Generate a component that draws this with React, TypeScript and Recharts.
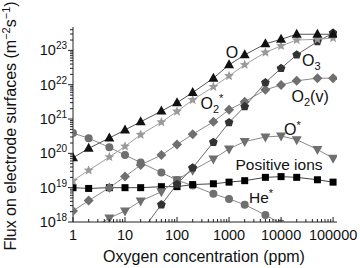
import React from "react"
import { LineChart, Line, XAxis, YAxis } from "recharts"

// oxygen concentration (ppm)
const conc = [1, 2, 5, 10, 20, 50, 100, 200, 500, 1000, 2000, 5000, 10000, 20000, 50000, 100000]

// fluxes (m^-2 s^-1), null = no point
const fluxO = [7.4e19, 1.4e20, 2.8e20, 4.8e20, 8.3e20, 1.7e21, 3.0e21, 5.9e21, 1.55e22, 3.8e22, 7.4e22, 1.55e23, 2.1e23, 2.95e23, 2.95e23, 2.95e23]
const fluxO2s = [1.6e19, 3.2e19, 7.8e19, 1.6e20, 3.5e20, 8.1e20, 1.66e21, 3.6e21, 8.7e21, 1.8e22, 3.8e22, 8.7e22, 1.35e23, 2.0e23, 2.1e23, 2.3e23]
const fluxO3 = [null, null, null, null, 5e17, 3.2e18, 1.26e19, 3.8e19, 2.1e20, 7.9e20, 2.3e21, 1.15e22, 3.0e22, 7.4e22, 1.8e23, 3.2e23]
const fluxO2v = [2.1e18, 4.2e18, 1.0e19, 2.1e19, 4.6e19, 8.9e19, 1.8e20, 3.6e20, 8.3e20, 1.86e21, 3.2e21, 7.1e21, 9.8e21, 1.3e22, 1.55e22, 1.55e22]
const fluxOs = [null, 5.6e17, 1.3e18, 2.1e18, 4.1e18, 7.6e18, 1.7e19, 3.2e19, 6.9e19, 1.35e20, 2.2e20, 3.0e20, 3.2e20, 2.5e20, 1.3e20, 7.2e19]
const fluxIons = [1.0e19, 9.5e18, 1.0e19, 1.0e19, 1.0e19, 1.07e19, 1.07e19, 1.23e19, 1.3e19, 1.45e19, 1.6e19, 2.0e19, 2.1e19, 2.0e19, 1.7e19, 1.45e19]
const fluxHe = [3.9e20, 2.75e20, 1.5e20, 8.9e19, 5.4e19, 2.75e19, 1.66e19, 1.15e19, 6.6e18, 4.7e18, 3.2e18, 1.6e18, 9e17, null, null, null]

const xMajor = [1, 10, 100, 1000, 10000, 100000]
const yExponents = [18, 19, 20, 21, 22, 23]

const data = conc.map((c, i) => ({
  c,
  O: fluxO[i],
  O2s: fluxO2s[i],
  O3: fluxO3[i],
  O2v: fluxO2v[i],
  Os: fluxOs[i],
  ions: fluxIons[i],
  He: fluxHe[i],
}))

// minor ticks 2..9 in every decade
const decadeTicks = (majors: number[], top: number) => {
  const out: number[] = []
  majors.forEach((m) => {
    for (let k = 1; k < 10; k++) if (m * k <= top) out.push(m * k)
  })
  return out
}
const xTicks = decadeTicks(xMajor, 1.19e5)
const yTicks = decadeTicks(yExponents.map((e) => Math.pow(10, e)), 4.8e23)

const font = "'Liberation Sans', Arial, Helvetica, sans-serif"

const isMajor = (v: number) => Math.abs(Math.log10(v) - Math.round(Math.log10(v))) < 1e-9

const XTick = (props: any) => {
  const { x, y, payload } = props
  const v = payload.value
  const major = isMajor(v)
  return (
    <g>
      <line x1={x} x2={x} y1={y} y2={y - (major ? 5 : 3)} stroke="#222" strokeWidth={1} />
      {major && (
        <text x={x} y={y + 18} textAnchor="middle" fontSize={14.5} fontFamily={font} fill="#111">
          {String(v)}
        </text>
      )}
    </g>
  )
}

const YTick = (props: any) => {
  const { x, y, payload } = props
  const v = payload.value
  const major = isMajor(v)
  return (
    <g>
      <line x1={x} x2={x - (major ? 5 : 3)} y1={y} y2={y} stroke="#222" strokeWidth={1} />
      {major && (
        <text x={x - 6} y={y + 5} textAnchor="end" fontSize={14.5} fontFamily={font} fill="#111">
          10
          <tspan dy={-6} fontSize={10}>
            {Math.round(Math.log10(v))}
          </tspan>
        </text>
      )}
    </g>
  )
}

type Shape = "tri" | "star" | "pent" | "diam" | "down" | "square" | "circle"

const polyPoints = (cx: number, cy: number, n: number, r: number, inner?: number) => {
  const pts: string[] = []
  const steps = inner ? n * 2 : n
  for (let i = 0; i < steps; i++) {
    const a = -Math.PI / 2 + (i * Math.PI * 2) / steps
    const rr = inner && i % 2 === 1 ? inner : r
    pts.push(`${cx + rr * Math.cos(a)},${cy + rr * Math.sin(a)}`)
  }
  return pts.join(" ")
}

const makeDot = (shape: Shape, fill: string) => (props: any) => {
  const { cx, cy, index } = props
  if (cx == null || cy == null) return <g key={index} />
  let el: React.ReactNode
  switch (shape) {
    case "tri":
      el = <polygon points={`${cx},${cy - 5.5} ${cx + 5},${cy + 3.5} ${cx - 5},${cy + 3.5}`} fill={fill} />
      break
    case "down":
      el = <polygon points={`${cx},${cy + 5.5} ${cx + 5},${cy - 3.5} ${cx - 5},${cy - 3.5}`} fill={fill} />
      break
    case "diam":
      el = <polygon points={`${cx},${cy - 5} ${cx + 5},${cy} ${cx},${cy + 5} ${cx - 5},${cy}`} fill={fill} />
      break
    case "square":
      el = <rect x={cx - 3.5} y={cy - 3.5} width={7} height={7} fill={fill} />
      break
    case "circle":
      el = <circle cx={cx} cy={cy} r={4} fill={fill} />
      break
    case "pent":
      el = <polygon points={polyPoints(cx, cy, 5, 4.6)} fill={fill} />
      break
    case "star":
      el = <polygon points={polyPoints(cx, cy, 5, 5.2, 2.3)} fill={fill} />
      break
  }
  return <g key={index}>{el}</g>
}

const series: { key: string; shape: Shape; fill: string; stroke: string }[] = [
  { key: "He", shape: "circle", fill: "#6f6f6f", stroke: "#8a8a8a" },
  { key: "ions", shape: "square", fill: "#000", stroke: "#444" },
  { key: "Os", shape: "down", fill: "#6f6f6f", stroke: "#8a8a8a" },
  { key: "O2v", shape: "diam", fill: "#6f6f6f", stroke: "#8a8a8a" },
  { key: "O3", shape: "pent", fill: "#333", stroke: "#6a6a6a" },
  { key: "O2s", shape: "star", fill: "#9a9a9a", stroke: "#a0a0a0" },
  { key: "O", shape: "tri", fill: "#111", stroke: "#555" },
]

const txt = { fontFamily: font, fill: "#111" }

export default function App() {
  return (
    <div style={{ position: "absolute", left: 0, top: 0, width: 360, height: 268, background: "#fff" }}>
      <LineChart width={360} height={268} data={data} margin={{ top: 27, right: 23, bottom: 0, left: 0 }}>
        <XAxis
          dataKey="c"
          type="number"
          scale="log"
          domain={[1, 1.19e5]}
          ticks={xTicks}
          interval={0}
          allowDataOverflow
          height={46}
          tickSize={0}
          tickMargin={0}
          tickLine={false}
          axisLine={{ stroke: "#222" }}
          tick={<XTick />}
        />
        <YAxis
          type="number"
          scale="log"
          domain={[1e18, 4.8e23]}
          ticks={yTicks}
          interval={0}
          allowDataOverflow
          width={73}
          tickSize={0}
          tickMargin={0}
          tickLine={false}
          axisLine={{ stroke: "#222" }}
          tick={<YTick />}
        />
        {series.map((s) => (
          <Line
            key={s.key}
            dataKey={s.key}
            type="linear"
            stroke={s.stroke}
            strokeWidth={1}
            dot={makeDot(s.shape, s.fill)}
            activeDot={false}
            isAnimationActive={false}
          />
        ))}
      </LineChart>
      <svg width={360} height={268} style={{ position: "absolute", left: 0, top: 0, pointerEvents: "none" }}>
        <text x={16} y={126} transform="rotate(-90 16 126)" textAnchor="middle" fontSize={16} {...txt}>
          Flux on electrode surfaces (m
          <tspan dy={-6} fontSize={11}>−2</tspan>
          <tspan dy={6}>s</tspan>
          <tspan dy={-6} fontSize={11}>−1</tspan>
          <tspan dy={6}>)</tspan>
        </text>
        <text x={204} y={262} textAnchor="middle" fontSize={16} {...txt}>
          Oxygen concentration (ppm)
        </text>
        <text x={232} y={58} textAnchor="middle" fontSize={16} {...txt}>O</text>
        <text x={302} y={65.5} fontSize={16} {...txt}>
          O<tspan dy={4} fontSize={11}>3</tspan>
        </text>
        <text x={200.5} y={109} fontSize={16} {...txt}>
          O<tspan dy={4} fontSize={11}>2</tspan>
          <tspan dy={-11} fontSize={11}>*</tspan>
        </text>
        <text x={291.5} y={101.5} fontSize={16} {...txt}>
          O<tspan dy={4} fontSize={11}>2</tspan>
          <tspan dy={-4}>(v)</tspan>
        </text>
        <text x={284} y={134.5} fontSize={16} {...txt}>
          O<tspan dy={-6} fontSize={11}>*</tspan>
        </text>
        <text x={279} y={170} textAnchor="middle" fontSize={15.5} {...txt}>Positive ions</text>
        <text x={249} y={203} fontSize={15.5} {...txt}>
          He<tspan dy={-6} fontSize={11}>*</tspan>
        </text>
      </svg>
    </div>
  )
}
